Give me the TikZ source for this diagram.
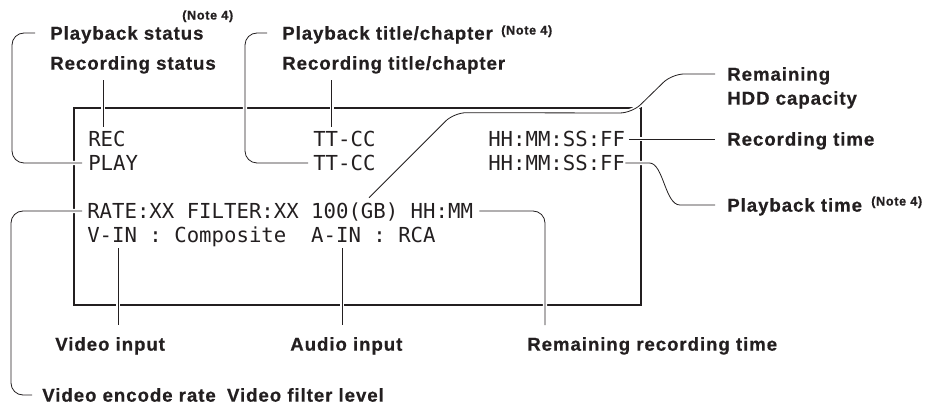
\documentclass[tikz,border=0pt]{standalone}
\usepackage{fontspec}
\usepackage{xcolor}
\usetikzlibrary{calc,positioning}
\setmonofont{DejaVu Sans Mono}
\newfontfamily\labfont{Liberation Sans}[LetterSpace=5, BoldFeatures={FakeBold=0.6}]
\definecolor{ink}{RGB}{35,31,32}

\begin{document}
\begin{tikzpicture}[
 x=0.75pt, y=-0.75pt,
 lab/.style={font={\labfont\bfseries\fontsize{14}{16}\selectfont}, text=ink, inner sep=0pt, anchor=west, text height=10pt, text depth=0pt},
 note/.style={font={\labfont\bfseries\fontsize{9.5}{11}\selectfont}, text=ink, inner sep=0pt, anchor=west, text height=6.8pt, text depth=0pt},
 mono/.style={font={\ttfamily\fontsize{15.5}{18}\selectfont}, text=ink, inner sep=0pt, anchor=west, text height=11.3pt, text depth=0pt},
 frame/.style={draw=ink, line width=2.2pt},
 lead/.style={draw=ink, line width=0.6pt, rounded corners=9pt, preaction={draw=white, line width=3.2pt}}
]
\useasboundingbox (0,0) rectangle (937,409);

% Screen
\draw[frame] (74,108) rectangle (641,305);

% Row 1: Recording
\node[mono] (rec) at (88,139) {REC};
\node[mono] (ttrec) at (313,139) {TT-CC};
\node[mono] (timerec) at (488,139) {HH:MM:SS:FF};

% Row 2: Playback
\node[mono] (play) at (88,163) {PLAY};
\node[mono] (ttplay) at (313,163) {TT-CC};
\node[mono] (timeplay) at (488,163) {HH:MM:SS:FF};

% Row 3 and 4: Settings
\node[mono] (rate) at (87,211) {RATE:XX FILTER:XX 100(GB) HH:MM};
\node[mono] (vin) at (87,235) {V-IN : Composite\ \ A-IN : RCA};

% Labels, top
\node[lab] (pbstat) at (50,33) {Playback status};
\node[note] (note1) at (182,15) {(Note 4)};
\node[lab] (recstat) at (50,63) {Recording status};
\node[lab] (pbtit) at (282,33) {Playback title/chapter};
\node[note] (note2) at (501,30) {(Note 4)};
\node[lab] (rectit) at (282,63) {Recording title/chapter};

% Labels, right
\node[lab] (hdd1) at (727,74) {Remaining};
\node[lab] (hdd2) at (727,98) {HDD capacity};
\node[lab] (rectime) at (727,139) {Recording time};
\node[lab] (pbtime) at (727,205) {Playback time};
\node[note] (note3) at (871,201) {(Note 4)};

% Labels, bottom
\node[lab] (vidin) at (55,344) {Video input};
\node[lab] (audin) at (290,344) {Audio input};
\node[lab] (remrec) at (527,344) {Remaining recording time};
\node[lab] (encrate) at (42,395) {Video encode rate};
\node[lab, right=8pt of encrate] (filt) {Video filter level};

% Leaders
\draw[lead] ($(play.west)+(-6,0)$) -| ($(pbstat.west)+(-38,0)$) -- ($(pbstat.west)+(-15,0)$);
\draw[lead] ($(rec.north)+(-4,-4.5)$) -- ($(recstat.south -| rec.north)+(-4,10)$);
\draw[lead] ($(ttplay.west)+(-5,0)$) -| ($(pbtit.west)+(-37,0)$) -- ($(pbtit.west)+(-15,0)$);
\draw[lead] ($(ttrec.north)+(-12.5,-4.5)$) -- ($(rectit.south -| ttrec.north)+(-12.5,10)$);

\draw[lead] ($(rate.north west)+(282,-5.5)$) coordinate (gb) -- ($(gb)+(85,-85)$)
 -- ($(hdd1.west)+(-95,39)$) -- ($(hdd1.west)+(-55,0)$) -- ($(hdd1.west)+(-12,0)$);
\draw[lead] ($(timerec.east)+(4,0)$) -- ($(rectime.west)+(-12,0)$);
\draw[lead] ($(timeplay.east)+(4,0)$) -- ($(timeplay.east)+(12,0)$)
 .. controls ($(timeplay.east)+(38,0)$) and ($(pbtime.west)+(-62,0)$) .. ($(pbtime.west)+(-35,0)$)
 -- ($(pbtime.west)+(-12,0)$);

\draw[lead] ($(rate.east)+(6,0)$) -| ($(remrec.north west)+(18,-12)$);
\draw[lead] ($(vin.south west)+(31,5.5)$) -- ($(vidin.north -| vin.south west)+(31,-12)$);
\draw[lead] ($(vin.south west)+(255,5.5)$) -- ($(audin.north -| vin.south west)+(255,-12)$);
\draw[lead] ($(rate.west)+(-5,0)$) -| ($(encrate.west)+(-31,0)$) -- ($(encrate.west)+(-10,0)$);

\end{tikzpicture}
\end{document}
